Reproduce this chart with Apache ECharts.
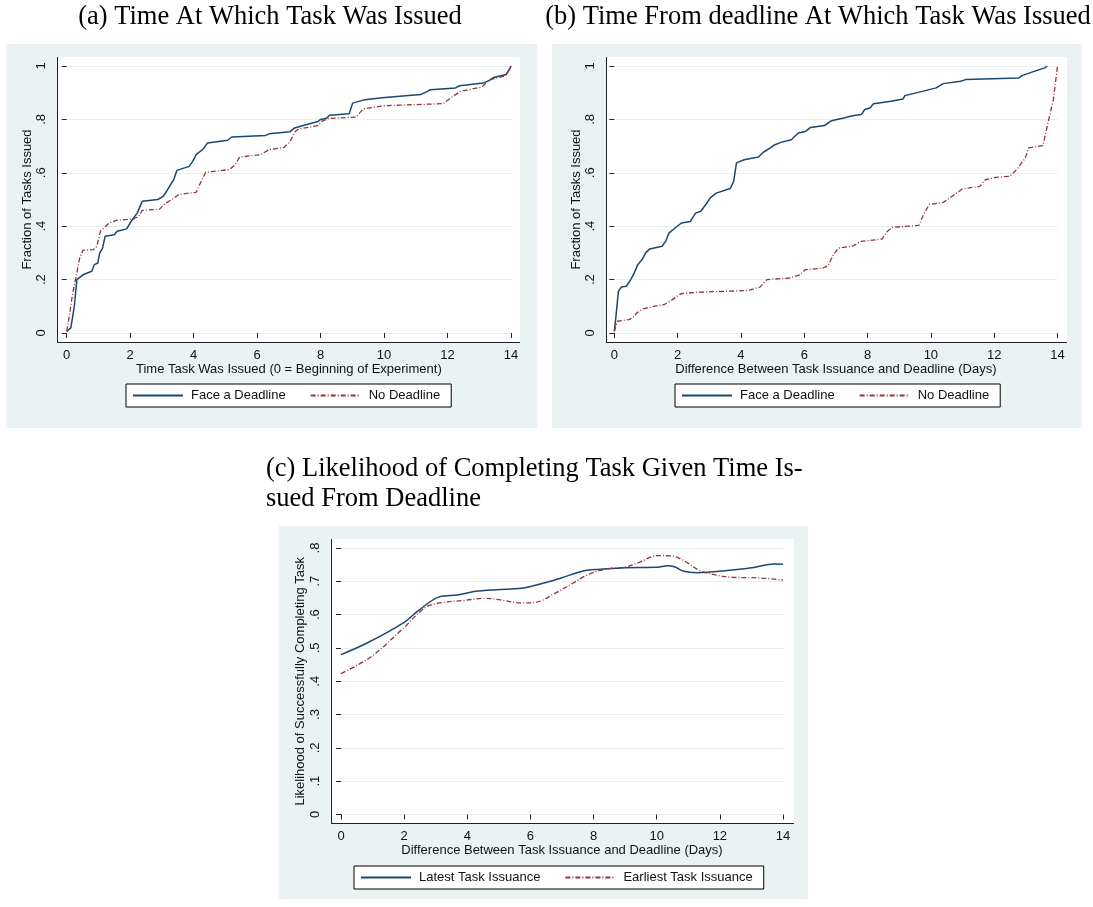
<!DOCTYPE html>
<html><head><meta charset="utf-8">
<script src="https://cdn.jsdelivr.net/npm/echarts@6/dist/echarts.min.js"></script>
<style>html,body{margin:0;padding:0;background:#fff}#chart{width:1093px;height:907px}</style>
</head><body><div id="chart"></div>
<script>
// ---------- text ----------
const titleA = '(a) Time At Which Task Was Issued';
const titleB = '(b) Time From deadline At Which Task Was Issued';
const titleC1 = '(c) Likelihood of Completing Task Given Time Is-';
const titleC2 = 'sued From Deadline';
const xNameA = 'Time Task Was Issued (0 = Beginning of Experiment)';
const xNameBC = 'Difference Between Task Issuance and Deadline (Days)';
const yNameAB = 'Fraction of Tasks Issued';
const yNameC = 'Likelihood of Successfully Completing Task';
const legendAB = ['Face a Deadline', 'No Deadline'];
const legendC = ['Latest Task Issuance', 'Earliest Task Issuance'];

// ---------- tick labels ----------
const xTickLabels = ['0','2','4','6','8','10','12','14'];
const yTickLabelsAB = ['0','.2','.4','.6','.8','1'];
const yTickLabelsC = ['0','.1','.2','.3','.4','.5','.6','.7','.8'];

// ---------- data (x, y) ----------
const aFace = [[0,0.006],[0.13,0.019],[0.24,0.1],[0.32,0.2],[0.51,0.218],[0.79,0.231],[0.87,0.256],[0.98,0.262],[1.04,0.3],[1.13,0.318],[1.21,0.362],[1.5,0.368],[1.59,0.381],[1.89,0.39],[2.0,0.412],[2.1,0.43],[2.22,0.449],[2.38,0.493],[2.87,0.5],[3.04,0.512],[3.15,0.531],[3.37,0.574],[3.47,0.609],[3.86,0.624],[3.97,0.643],[4.08,0.668],[4.3,0.689],[4.44,0.712],[5.07,0.722],[5.2,0.734],[6.27,0.74],[6.38,0.746],[7.04,0.754],[7.18,0.768],[7.45,0.777],[7.51,0.784],[7.92,0.792],[8.0,0.8],[8.19,0.804],[8.28,0.816],[8.9,0.821],[9.01,0.861],[9.4,0.874],[9.94,0.881],[11.15,0.893],[11.37,0.905],[11.46,0.911],[12.25,0.918],[12.38,0.926],[13.12,0.936],[13.32,0.946],[13.45,0.957],[13.84,0.968],[13.95,0.986],[14,1.0]];
const aNo = [[0,0.006],[0.08,0.062],[0.19,0.15],[0.32,0.225],[0.41,0.281],[0.51,0.31],[0.84,0.312],[0.95,0.325],[1.06,0.381],[1.34,0.412],[1.56,0.422],[2.1,0.427],[2.27,0.437],[2.38,0.459],[2.93,0.464],[3.09,0.484],[3.34,0.502],[3.53,0.519],[4.08,0.527],[4.19,0.556],[4.38,0.602],[5.12,0.612],[5.31,0.63],[5.45,0.659],[6.11,0.668],[6.38,0.687],[6.85,0.695],[7.04,0.718],[7.2,0.755],[7.31,0.764],[7.92,0.777],[8.03,0.793],[8.25,0.803],[9.12,0.809],[9.34,0.839],[9.73,0.846],[9.94,0.851],[11.86,0.859],[12.14,0.884],[12.41,0.905],[13.07,0.921],[13.34,0.949],[13.84,0.964],[14,1.0]];
const bFace = [[0,0.006],[0.05,0.06],[0.13,0.156],[0.22,0.172],[0.38,0.175],[0.52,0.2],[0.63,0.225],[0.74,0.256],[0.88,0.275],[0.99,0.3],[1.12,0.315],[1.51,0.325],[1.62,0.343],[1.73,0.375],[1.95,0.396],[2.12,0.412],[2.4,0.418],[2.57,0.449],[2.73,0.456],[2.91,0.484],[3.03,0.506],[3.22,0.524],[3.66,0.541],[3.77,0.568],[3.86,0.637],[4.1,0.649],[4.55,0.659],[4.71,0.677],[4.93,0.693],[5.04,0.703],[5.26,0.714],[5.59,0.724],[5.81,0.749],[6.04,0.755],[6.2,0.77],[6.64,0.777],[6.86,0.795],[7.25,0.805],[7.52,0.814],[7.8,0.818],[7.91,0.837],[8.07,0.843],[8.19,0.859],[8.74,0.868],[9.12,0.876],[9.18,0.889],[9.73,0.905],[10.17,0.918],[10.39,0.934],[10.94,0.943],[11.1,0.949],[12.77,0.955],[12.88,0.964],[13.26,0.98],[13.6,0.993],[13.67,1.0]];
const bNo = [[0,0.006],[0.1,0.044],[0.46,0.05],[0.57,0.056],[0.71,0.075],[0.9,0.09],[1.24,0.1],[1.57,0.106],[1.84,0.125],[2.1,0.147],[2.56,0.152],[3.22,0.155],[4.21,0.159],[4.6,0.172],[4.82,0.2],[5.54,0.206],[5.87,0.218],[6.03,0.237],[6.59,0.243],[6.75,0.252],[6.92,0.293],[7.08,0.318],[7.52,0.325],[7.8,0.343],[8.46,0.352],[8.63,0.381],[8.79,0.396],[9.62,0.403],[9.79,0.449],[9.95,0.481],[10.39,0.489],[10.67,0.512],[11.0,0.54],[11.55,0.549],[11.72,0.574],[12.05,0.583],[12.49,0.587],[12.71,0.612],[12.98,0.655],[13.09,0.693],[13.54,0.702],[13.7,0.787],[13.87,0.874],[13.96,0.961],[14,1.0]];
const cLatest = [[0,0.480],[0.81,0.514],[2.0,0.577],[2.45,0.612],[3.13,0.654],[3.69,0.659],[4.26,0.670],[4.93,0.675],[5.72,0.679],[6.4,0.694],[6.97,0.710],[7.7,0.732],[8.21,0.736],[9.0,0.741],[10.01,0.742],[10.35,0.747],[10.58,0.743],[10.86,0.730],[11.26,0.726],[11.6,0.727],[12.16,0.732],[12.95,0.740],[13.74,0.752],[14,0.751]];
const cEarliest = [[0,0.423],[0.98,0.475],[2.0,0.562],[2.68,0.622],[3.13,0.635],[3.92,0.643],[4.6,0.649],[5.05,0.644],[5.72,0.635],[6.18,0.637],[6.74,0.662],[7.3,0.692],[7.87,0.722],[8.43,0.737],[9.0,0.743],[9.45,0.757],[10.01,0.777],[10.47,0.776],[10.86,0.762],[11.37,0.732],[11.83,0.720],[12.39,0.712],[12.95,0.711],[13.4,0.709],[14,0.704]];

// ---------- layout / style ----------
const SANS = '"Liberation Sans", Arial, sans-serif';
const SERIF = '"Liberation Serif", "Times New Roman", serif';
const BG = '#EAF2F3', GRIDC = '#E6EEF0', AXC = '#222', TXT = '#111';
const BLUE = '#1A476F', RED = '#90353B';
const P = [
  {box:[6,44,537,428],   plot:[57,57,520,342],  data:[66.7,66,511,333]},
  {box:[552,44,1082,428],plot:[606,57,1067,342],data:[614.3,66,1057.5,333]},
  {box:[279,526,808,899],plot:[331,539,794,823],data:[341,548,783,814.5]}
];

const grids = P.map(p => ({left:p.data[0], top:p.data[1], width:p.data[2]-p.data[0], height:p.data[3]-p.data[1], containLabel:false}));

function xAx(i, name) {
  const p = P[i];
  return {type:'value', gridIndex:i, min:0, max:14, interval:2,
    offset: p.plot[3]-p.data[3],
    name, nameLocation:'middle', nameGap:21,
    nameTextStyle:{fontSize:13, color:TXT, fontFamily:SANS},
    axisLine:{show:false},
    axisTick:{show:true, length:5, lineStyle:{color:AXC, width:1}},
    axisLabel:{fontSize:13, color:TXT, fontFamily:SANS, margin:7,
      formatter: v => xTickLabels[Math.round(v/2)]},
    splitLine:{show:false}};
}
function yAx(i, name, max, interval, labels, nameGap) {
  const p = P[i];
  return {type:'value', gridIndex:i, min:0, max, interval,
    offset: p.data[0]-p.plot[0],
    name, nameLocation:'middle', nameGap,
    nameTextStyle:{fontSize:13, color:TXT, fontFamily:SANS},
    axisLine:{show:false},
    axisTick:{show:true, length:5, lineStyle:{color:AXC, width:1}},
    axisLabel:{fontSize:13, color:TXT, fontFamily:SANS, margin:9, rotate:90,
      formatter: v => labels[Math.round(v/interval)]},
    splitLine:{show:true, lineStyle:{color:GRIDC, width:1}}};
}

function ser(name, data, i, color, dashed) {
  return {type:'line', name, data, xAxisIndex:i, yAxisIndex:i, symbol:'none',
    smooth: i===2 ? 0.35 : false, color,
    lineStyle:{color, width: dashed?1.3:1.5, type: dashed?[5,2,1,2]:'solid'},
    animation:false};
}

function legend(names, left, top) {
  return {data:names, left, top, orient:'horizontal', itemWidth:50, itemHeight:14, itemGap:24,
    padding:[5,11,5,6], borderColor:'#000', borderWidth:1, backgroundColor:'#fff',
    selectedMode:false,
    itemStyle:{opacity:0},
    textStyle:{fontSize:13, color:TXT, fontFamily:SANS, padding:[0,0,0,3]}};
}

const graphics = [];
P.forEach(p => {
  graphics.push({type:'rect', z:-20, silent:true, shape:{x:p.box[0], y:p.box[1], width:p.box[2]-p.box[0], height:p.box[3]-p.box[1]}, style:{fill:BG}});
  graphics.push({type:'rect', z:-19, silent:true, shape:{x:p.plot[0], y:p.plot[1], width:p.plot[2]-p.plot[0], height:p.plot[3]-p.plot[1]}, style:{fill:'#fff'}});
  graphics.push({type:'line', z:50, silent:true, shape:{x1:p.plot[0]+0.5, y1:p.plot[1], x2:p.plot[0]+0.5, y2:p.plot[3]}, style:{stroke:AXC, lineWidth:1}});
  graphics.push({type:'line', z:50, silent:true, shape:{x1:p.plot[0], y1:p.plot[3]+0.5, x2:p.plot[2], y2:p.plot[3]+0.5}, style:{stroke:AXC, lineWidth:1}});
});
function ttl(text, x, y, align) {
  return {type:'text', z:60, silent:true, x, y, style:{text, fontSize:26.5, fontFamily:SERIF, fill:'#000', align, verticalAlign:'middle'}};
}
graphics.push(ttl(titleA, 270, 17, 'center'));
graphics.push(ttl(titleB, 818, 17, 'center'));
graphics.push(ttl(titleC1, 266, 469, 'left'));
graphics.push(ttl(titleC2, 266, 499, 'left'));

const chart = echarts.init(document.getElementById('chart'), null, {renderer:'canvas'});
chart.setOption({
  animation:false,
  backgroundColor:'#fff',
  grid: grids,
  xAxis: [xAx(0, xNameA), xAx(1, xNameBC), xAx(2, xNameBC)],
  yAxis: [yAx(0, yNameAB, 1, 0.2, yTickLabelsAB, 22), yAx(1, yNameAB, 1, 0.2, yTickLabelsAB, 22), yAx(2, yNameC, 0.8, 0.1, yTickLabelsC, 24)],
  legend: [legend(legendAB, 126, 384), legend(legendAB, 675, 384), legend(legendC, 354, 866)],
  graphic: graphics,
  series: [
    ser(legendAB[0], aFace, 0, BLUE, false),
    ser(legendAB[1], aNo, 0, RED, true),
    ser(legendAB[0], bFace, 1, BLUE, false),
    ser(legendAB[1], bNo, 1, RED, true),
    ser(legendC[0], cLatest, 2, BLUE, false),
    ser(legendC[1], cEarliest, 2, RED, true)
  ]
});
</script></body></html>
